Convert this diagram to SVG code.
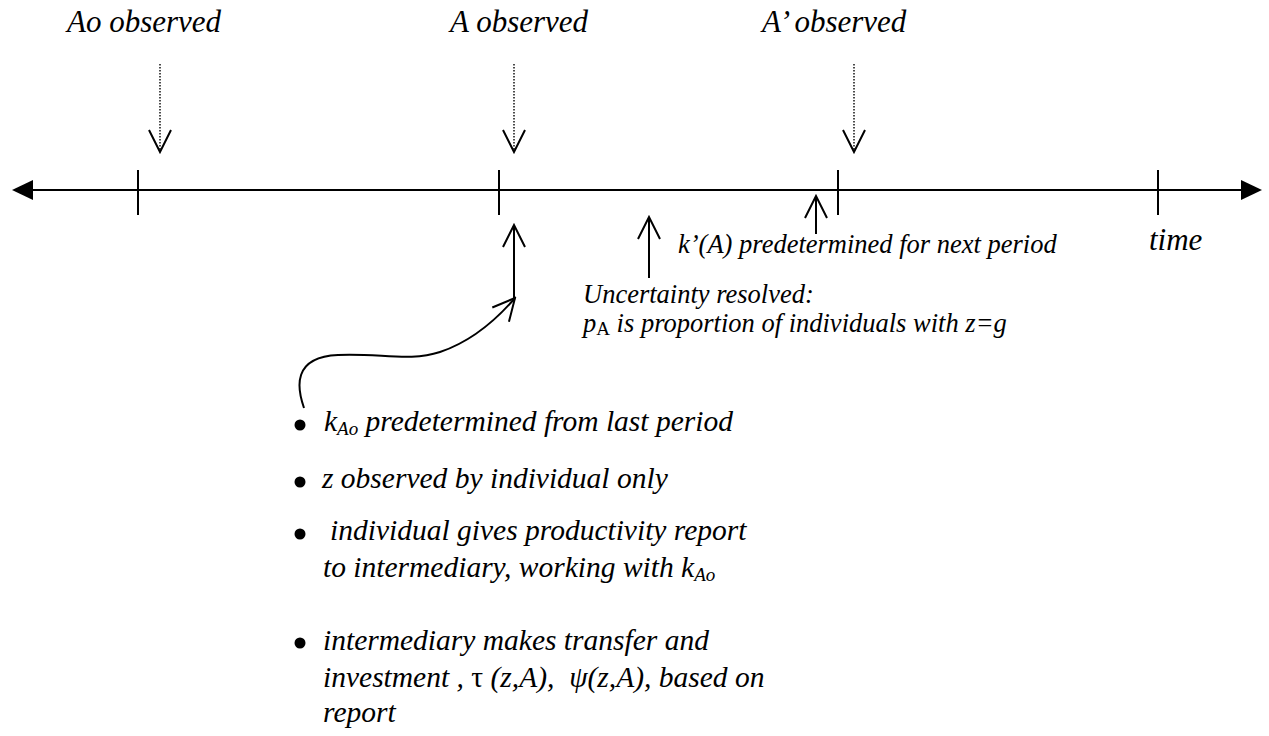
<svg xmlns="http://www.w3.org/2000/svg" width="1269" height="736" viewBox="0 0 1269 736">
  <style>
    .lbl { font-family: "Liberation Serif", "Times New Roman", serif; font-style: italic; fill: #000; }
    .top { font-size: 31px; }
    .mid { font-size: 26.5px; }
    .bul { font-size: 29.5px; }
    .sub { font-size: 19px; font-style: italic; }
    .ln { stroke: #000; stroke-width: 2; fill: none; }
    .dot { stroke: #000; stroke-width: 1.4; stroke-dasharray: 1.5 1.5; fill: none; }
  </style>
  <defs>
    <marker id="open" viewBox="-24 -13 26 26" refX="0" refY="0" markerWidth="26" markerHeight="26" markerUnits="userSpaceOnUse" orient="auto">
      <path d="M-22,-11 L0,0 L-22,11" fill="none" stroke="#000" stroke-width="2"/>
    </marker>
  </defs>
  <rect width="1269" height="736" fill="#fff"/>

  <g id="connectors">
    <line class="ln" x1="30" y1="190" x2="1244" y2="190"/>
    <polygon points="12,190 33,180 33,200" fill="#000"/>
    <polygon points="1262,190 1241,180 1241,200" fill="#000"/>
    <line class="ln" x1="138" y1="170" x2="138" y2="215"/>
    <line class="ln" x1="499" y1="170" x2="499" y2="215"/>
    <line class="ln" x1="838" y1="170" x2="838" y2="215"/>
    <line class="ln" x1="1158" y1="170" x2="1158" y2="215"/>
    <line class="dot" x1="160" y1="64" x2="160" y2="152" marker-end="url(#open)"/>
    <line class="dot" x1="514" y1="64" x2="514" y2="152" marker-end="url(#open)"/>
    <line class="dot" x1="854" y1="64" x2="854" y2="152" marker-end="url(#open)"/>
    <line class="ln" x1="514" y1="298" x2="514" y2="225" marker-end="url(#open)"/>
    <line class="ln" x1="649" y1="278" x2="649" y2="217" marker-end="url(#open)"/>
    <line class="ln" x1="816" y1="234" x2="816" y2="196" marker-end="url(#open)"/>
    <path class="ln" d="M304,408 C297,388 292,357 338,355 C380,353 410,362 440,352 C470,342 496,320 515,298" marker-end="url(#open)"/>
  </g>

  <g id="label-ao">
    <text class="lbl top" x="67" y="32">Ao observed</text>
  </g>
  <g id="label-a">
    <text class="lbl top" x="450" y="32">A observed</text>
  </g>
  <g id="label-a-prime">
    <text class="lbl top" x="762" y="32">A’ observed</text>
  </g>
  <g id="label-time">
    <text class="lbl top" x="1149" y="250">time</text>
  </g>
  <g id="label-kprime">
    <text class="lbl mid" x="678" y="253">k’(A) predetermined for next period</text>
  </g>
  <g id="label-uncertainty">
    <text class="lbl mid" x="583" y="303">Uncertainty resolved:</text>
    <text class="lbl mid" x="583" y="332">p<tspan class="sub" style="font-style:normal" dy="3">A</tspan><tspan dy="-3"> is proportion of individuals with z=g</tspan></text>
  </g>

  <g id="bullets">
    <circle cx="300" cy="425" r="5.5"/>
    <text class="lbl bul" x="324" y="431">k<tspan class="sub" dy="4">Ao</tspan><tspan dy="-4"> predetermined from last period</tspan></text>
    <circle cx="300" cy="482" r="5.5"/>
    <text class="lbl bul" x="322" y="488">z observed by individual only</text>
    <circle cx="300" cy="534" r="5.5"/>
    <text class="lbl bul" x="330" y="540">individual gives productivity report</text>
    <text class="lbl bul" x="323" y="577">to intermediary, working with k<tspan class="sub" dy="4">Ao</tspan></text>
    <circle cx="300" cy="643" r="5.5"/>
    <text class="lbl bul" x="323" y="650">intermediary makes transfer and</text>
    <text class="lbl bul" x="323" y="687" xml:space="preserve">investment , <tspan style="font-style:normal">τ</tspan> (z,A),  ψ(z,A), based on</text>
    <text class="lbl bul" x="323" y="722">report</text>
  </g>
</svg>
